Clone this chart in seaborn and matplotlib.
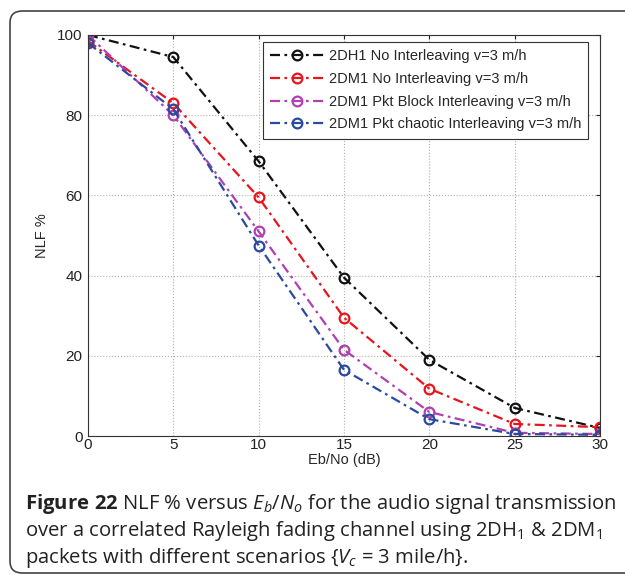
import matplotlib
matplotlib.use("Agg")
import matplotlib.pyplot as plt
import seaborn as sns
import pandas as pd
from matplotlib.patches import FancyBboxPatch

ebno = [0, 5, 10, 15, 20, 25, 30]
dh1_no = [100, 94.5, 68.5, 39.5, 19, 7, 2]
dm1_no = [98.5, 83, 59.5, 29.5, 11.8, 3, 2.2]
dm1_block = [100, 80, 51, 21.5, 6, 0.8, 0.5]
dm1_chaotic = [98, 81.5, 47.5, 16.5, 4.2, 0.5, 0.3]
labels = ["2DH1 No Interleaving v=3 m/h",
          "2DM1 No Interleaving v=3 m/h",
          "2DM1 Pkt Block Interleaving v=3 m/h",
          "2DM1 Pkt chaotic Interleaving v=3 m/h"]
colors = ["#111111", "#e8141c", "#b040b0", "#2a4aa0"]
xticks = [0, 5, 10, 15, 20, 25, 30]
yticks = [0, 20, 40, 60, 80, 100]

sns.set_style("white")
plt.rcParams['font.family'] = ['Liberation Sans', 'DejaVu Sans']
plt.rcParams['mathtext.fontset'] = 'custom'
plt.rcParams['mathtext.rm'] = 'Open Sans'
plt.rcParams['mathtext.it'] = 'Open Sans:italic'
plt.rcParams['mathtext.bf'] = 'Open Sans:bold'

W, H = 625, 575
fig = plt.figure(figsize=(W / 100, H / 100), dpi=100)
ax = fig.add_axes([88 / W, 1 - 436 / H, 512 / W, 401 / H])

series = [dh1_no, dm1_no, dm1_block, dm1_chaotic]
for vals, lab, col in zip(series, labels, colors):
    df = pd.DataFrame({"x": ebno, "y": vals})
    sns.lineplot(data=df, x="x", y="y", ax=ax, color=col, linestyle=(0, (4.5, 2, 1.2, 2)),
                 linewidth=1.6, marker="o", markersize=7, markerfacecolor="none",
                 markeredgecolor=col, markeredgewidth=1.6, label=lab)

ax.set_xlim(0, 30)
ax.set_ylim(0, 100)
ax.set_xticks(xticks)
ax.set_yticks(yticks)
ax.tick_params(direction="in", top=True, right=True, length=3, labelsize=11,
               colors="#222222")
ax.tick_params(axis="x", pad=1.5)
ax.tick_params(axis="y", pad=4)
ax.grid(True, linestyle=":", color="#b0b0b0", linewidth=0.8)
for s in ax.spines.values():
    s.set_color("#333333")
    s.set_linewidth(0.8)
ax.set_xlabel("Eb/No (dB)", fontsize=10.5, labelpad=1)
ax.set_ylabel("NLF %", fontsize=10.5, labelpad=6)

leg = ax.legend(loc="upper right", bbox_to_anchor=(0.977, 0.983), borderaxespad=0,
                fontsize=10.5, frameon=True, fancybox=False, edgecolor="#333333",
                framealpha=1, handlelength=3.7, borderpad=0.5, labelspacing=0.6,
                handletextpad=0.3)
leg.get_frame().set_linewidth(0.8)

cap_kw = dict(fontsize=14.6, family="Open Sans", color="#222222", transform=fig.transFigure)
fig.text(0.04, 0.115, r"$\mathbf{Figure\ 22}$ NLF % versus $E_b/N_o$ for the audio signal transmission", **cap_kw)
fig.text(0.04, 0.068, r"over a correlated Rayleigh fading channel using 2DH$_1$ & 2DM$_1$", **cap_kw)
fig.text(0.04, 0.021, r"packets with different scenarios {$V_c$ = 3 mile/h}.", **cap_kw)

box = FancyBboxPatch((10 / W, 2 / H), 640 / W, 562 / H,
                     boxstyle="round,pad=0,rounding_size=0.02",
                     transform=fig.transFigure, fill=False, edgecolor="#444444",
                     linewidth=1.2, clip_on=False)
fig.patches.append(box)

fig.savefig("out.png", dpi=100)
